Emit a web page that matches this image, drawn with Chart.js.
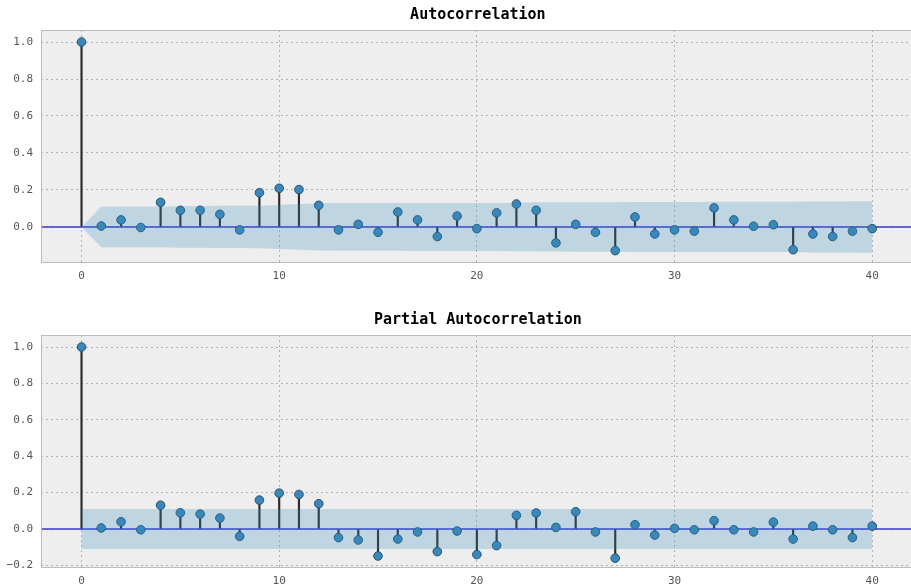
<!DOCTYPE html>
<html>
<head>
<meta charset="utf-8">
<script src="https://cdn.jsdelivr.net/npm/chart.js@4.4.0/dist/chart.umd.min.js"></script>
<style>
    html, body { margin: 0; padding: 0; background: #ffffff; overflow: hidden; width: 911px; height: 587px; }
    canvas { position: absolute; left: 0; }
    #acf { top: 0; }
    #pacf { top: 290px; }
</style>
</head>
<body>
<canvas id="acf" width="920" height="290"></canvas>
<canvas id="pacf" width="920" height="297"></canvas>
<script>
// Lags 0..40
const LAGS = [0, 1, 2, 3, 4, 5, 6, 7, 8, 9, 10, 11, 12, 13, 14, 15, 16, 17, 18, 19, 20,
    21, 22, 23, 24, 25, 26, 27, 28, 29, 30, 31, 32, 33, 34, 35, 36, 37, 38, 39, 40];

// Autocorrelation values
const ACF_VALUES = [1.0, 0.005, 0.038, -0.003, 0.133, 0.09, 0.09, 0.068, -0.016, 0.185, 0.209,
    0.202, 0.117, -0.016, 0.014, -0.029, 0.081, 0.038, -0.052, 0.059, -0.009,
    0.076, 0.124, 0.09, -0.086, 0.014, -0.029, -0.128, 0.054, -0.038, -0.016,
    -0.023, 0.103, 0.038, 0.004, 0.012, -0.123, -0.038, -0.052, -0.023, -0.009];

// Half width of the ACF confidence band
const ACF_CONF = [0.0, 0.110, 0.110, 0.110, 0.110, 0.112, 0.113, 0.114, 0.114, 0.115, 0.119,
    0.124, 0.128, 0.129, 0.129, 0.129, 0.129, 0.130, 0.130, 0.130, 0.130,
    0.130, 0.131, 0.133, 0.133, 0.134, 0.134, 0.134, 0.135, 0.135, 0.135,
    0.135, 0.136, 0.136, 0.136, 0.136, 0.136, 0.138, 0.138, 0.139, 0.139];

// Partial autocorrelation values
const PACF_VALUES = [1.0, 0.006, 0.04, -0.004, 0.131, 0.089, 0.082, 0.06, -0.04, 0.159, 0.197,
    0.19, 0.139, -0.047, -0.06, -0.148, -0.055, -0.016, -0.124, -0.011, -0.14,
    -0.091, 0.075, 0.088, 0.009, 0.095, -0.016, -0.16, 0.024, -0.033, 0.004,
    -0.004, 0.046, -0.004, -0.016, 0.038, -0.055, 0.016, -0.004, -0.047, 0.016];

// Half width of the PACF confidence band
const PACF_CONF = [0.11, 0.11, 0.11, 0.11, 0.11, 0.11, 0.11, 0.11, 0.11, 0.11, 0.11,
    0.11, 0.11, 0.11, 0.11, 0.11, 0.11, 0.11, 0.11, 0.11, 0.11,
    0.11, 0.11, 0.11, 0.11, 0.11, 0.11, 0.11, 0.11, 0.11, 0.11,
    0.11, 0.11, 0.11, 0.11, 0.11, 0.11, 0.11, 0.11, 0.11, 0.11];

const X_TICKS = [0, 10, 20, 30, 40];
const X_TICK_LABELS = ['0', '10', '20', '30', '40'];
const ACF_Y_TICKS = [0.0, 0.2, 0.4, 0.6, 0.8, 1.0];
const ACF_Y_LABELS = ['0.0', '0.2', '0.4', '0.6', '0.8', '1.0'];
const PACF_Y_TICKS = [-0.2, 0.0, 0.2, 0.4, 0.6, 0.8, 1.0];
const PACF_Y_LABELS = ['\u22120.2', '0.0', '0.2', '0.4', '0.6', '0.8', '1.0'];

const MONO = "'DejaVu Sans Mono', monospace";

// Plot background, zero line, spines and title
const framePlugin = {
    id: 'frame',
    beforeDraw(chart) {
        const a = chart.chartArea;
        const ctx = chart.ctx;
        ctx.save();
        ctx.fillStyle = '#eeeeee';
        ctx.fillRect(a.left, a.top, a.right - a.left, a.bottom - a.top);
        ctx.restore();
    },
    beforeDatasetDraw(chart, args) {
        // zero line goes over the stems, under the markers
        if (args.index !== 2) return;
        const a = chart.chartArea;
        const ctx = chart.ctx;
        const y0 = chart.scales.y.getPixelForValue(0);
        ctx.save();
        ctx.strokeStyle = '#3a3ad0';
        ctx.lineWidth = 1.6;
        ctx.beginPath();
        ctx.moveTo(a.left, y0);
        ctx.lineTo(a.right, y0);
        ctx.stroke();
        ctx.restore();
    },
    afterDraw(chart, args, opts) {
        const a = chart.chartArea;
        const ctx = chart.ctx;
        ctx.save();
        ctx.strokeStyle = '#bcbcbc';
        ctx.lineWidth = 1;
        ctx.strokeRect(a.left + 0.5, a.top + 0.5, a.right - a.left - 1, a.bottom - a.top - 1);
        ctx.fillStyle = '#000000';
        ctx.font = 'bold 15px ' + MONO;
        ctx.textAlign = 'center';
        ctx.textBaseline = 'middle';
        ctx.fillText(opts.title, (a.left + a.right) / 2, a.top - opts.titleOffset);
        ctx.restore();
    }
};

function buildChart(canvasId, cfg) {
    const stems = LAGS.map((lag, i) => ({ x: lag, y: [0, cfg.values[i]] }));
    const points = LAGS.map((lag, i) => ({ x: lag, y: cfg.values[i] }));
    const upper = LAGS.map((lag, i) => ({ x: lag, y: cfg.conf[i] }));
    const lower = LAGS.map((lag, i) => ({ x: lag, y: -cfg.conf[i] }));

    return new Chart(document.getElementById(canvasId), {
        type: 'scatter',
        data: {
            datasets: [
                {
                    type: 'line',
                    data: upper,
                    fill: '+1',
                    backgroundColor: 'rgba(52, 138, 189, 0.25)',
                    borderColor: 'rgba(0, 0, 0, 0)',
                    borderWidth: 0,
                    pointRadius: 0,
                    tension: 0,
                    order: 0
                },
                {
                    type: 'line',
                    data: lower,
                    fill: false,
                    borderColor: 'rgba(0, 0, 0, 0)',
                    borderWidth: 0,
                    pointRadius: 0,
                    tension: 0,
                    order: 0
                },
                {
                    type: 'scatter',
                    data: points,
                    pointRadius: 4.3,
                    backgroundColor: '#3b87ba',
                    borderColor: '#25506f',
                    borderWidth: 1,
                    order: 1
                },
                {
                    type: 'bar',
                    data: stems,
                    backgroundColor: '#2b2b2b',
                    barThickness: 1.5,
                    order: 2
                }
            ]
        },
        options: {
            responsive: false,
            animation: false,
            layout: { padding: { top: cfg.padTop, right: 4, bottom: 0, left: 0 } },
            plugins: {
                legend: { display: false },
                tooltip: { enabled: false },
                frame: { title: cfg.title, titleOffset: 15 }
            },
            scales: {
                x: {
                    type: 'linear',
                    offset: false,
                    min: -2.05,
                    max: 42.15,
                    afterBuildTicks: (s) => { s.ticks = X_TICKS.map(v => ({ value: v })); },
                    afterFit: (s) => { s.height = cfg.xHeight; },
                    ticks: {
                        autoSkip: false,
                        maxRotation: 0,
                        padding: 7,
                        color: '#555555',
                        font: { family: MONO, size: 11 },
                        callback: (v, i) => X_TICK_LABELS[i]
                    },
                    grid: { offset: false, color: '#b2b2b2', lineWidth: 1, drawTicks: false },
                    border: { display: false, dash: [2, 3] }
                },
                y: {
                    type: 'linear',
                    min: cfg.yMin,
                    max: cfg.yMax,
                    afterBuildTicks: (s) => { s.ticks = cfg.yTicks.map(v => ({ value: v })); },
                    afterFit: (s) => { s.width = 41; },
                    ticks: {
                        padding: 8,
                        color: '#555555',
                        font: { family: MONO, size: 11 },
                        callback: (v, i) => cfg.yLabels[i]
                    },
                    grid: { color: '#b2b2b2', lineWidth: 1, drawTicks: false },
                    border: { display: false, dash: [2, 3] }
                }
            }
        },
        plugins: [framePlugin]
    });
}

buildChart('acf', {
    title: 'Autocorrelation',
    values: ACF_VALUES,
    conf: ACF_CONF,
    yMin: -0.195,
    yMax: 1.065,
    yTicks: ACF_Y_TICKS,
    yLabels: ACF_Y_LABELS,
    padTop: 30,
    xHeight: 27
});

buildChart('pacf', {
    title: 'Partial Autocorrelation',
    values: PACF_VALUES,
    conf: PACF_CONF,
    yMin: -0.214,
    yMax: 1.066,
    yTicks: PACF_Y_TICKS,
    yLabels: PACF_Y_LABELS,
    padTop: 45,
    xHeight: 19
});
</script>
</body>
</html>
